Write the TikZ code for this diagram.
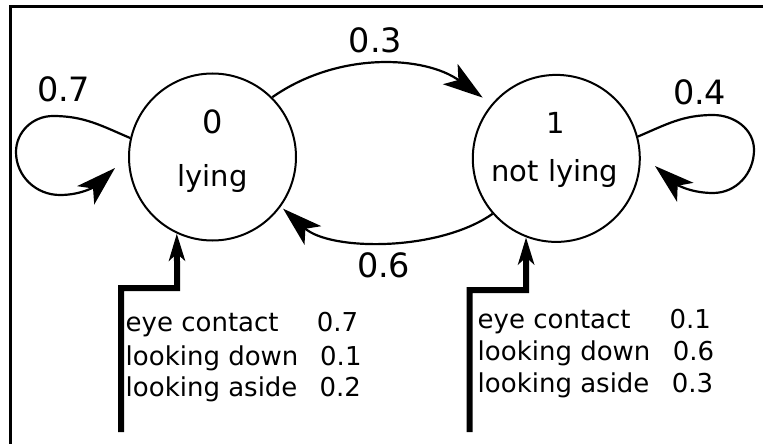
\documentclass[tikz,border=0pt]{standalone}
\usepackage{fontspec}
\setmainfont{DejaVu Sans}
\usetikzlibrary{arrows.meta}
\begin{document}
\begin{tikzpicture}[x=1pt,y=1pt,
  statenode/.style={draw, circle, line width=2pt, minimum size=167pt, inner sep=0pt},
  stxt/.style={inner sep=0pt, anchor=base, font=\fontsize{29}{34}\selectfont},
  prob/.style={inner sep=0pt, anchor=base west, font=\fontsize{33.5}{40}\selectfont},
  tab/.style={inner sep=0pt, anchor=base west, font=\fontsize{26}{31}\selectfont},
  edge/.style={line width=2.2pt, -{Stealth[length=40pt,width=25pt,inset=10pt]}},
  feed/.style={line width=6pt, line join=miter, -{Stealth[length=27pt,width=16pt,inset=7pt]}}
]
\fill[white] (0,0) rectangle (763,-444);
\useasboundingbox (0,0) rectangle (763,-444);
% frame (clipped at right and bottom)
\draw[line width=3pt] (10,-444) -- (10,-6.5) -- (763,-6.5);

% states
\node[statenode] (s0) at (212.5,-157) {};
\node[statenode] (s1) at (556.3,-158.4) {};
\node[stxt, font=\fontsize{32}{38}\selectfont] (t0a) at (212.3,-133.3) {0};
\node[stxt] (t0b) at (212.5,-186) {lying};
\node[stxt] (t1a) at (556,-133.3) {1};
\node[stxt] (t1b) at (554.7,-181.7) {not lying};

% transitions between states
\draw[edge, shorten >=11pt] (s0.45) to[out=35,in=144,looseness=0.95] (s1.140);
\draw[edge, shorten >=3pt] (s1.221) to[out=-145,in=-42,looseness=0.8] (s0.-36);

% self loop on state 0
\coordinate (a0) at (53,-116);
\coordinate (b0) at (16,-152);
\coordinate (c0) at (60,-195);
\coordinate (e0) at (115,-168);
\draw[edge] (s0.167) to[out=157,in=0] (a0) to[out=180,in=90] (b0)
  to[out=-90,in=180] (c0) to[out=0,in=223] (e0);

% self loop on state 1
\coordinate (a1) at (713,-115);
\coordinate (b1) at (754,-150);
\coordinate (c1) at (713,-193);
\coordinate (e1) at (655,-166);
\draw[edge] (s1.15) to[out=23,in=180] (a1) to[out=0,in=90] (b1)
  to[out=-90,in=0] (c1) to[out=180,in=-41] (e1);

% transition probability labels
\node[prob] (p00) at (36.8,-102) {0.7};
\node[prob] (p01) at (348.5,-52.7) {0.3};
\node[prob] (p11) at (672.8,-104) {0.4};
\node[prob] (p10) at (356.8,-277.3) {0.6};

% emission inputs
\coordinate (i0) at (121.2,-432);
\coordinate (k0) at (177.2,-288);
\draw[feed] (i0) |- (k0) -- (s0.-115);
\coordinate (i1) at (469.5,-432);
\coordinate (k1) at (526.2,-290);
\draw[feed] (i1) |- (k1) -- (s1.-111);

% emission tables
\node[tab] (l0r1) at (125.5,-331.7) {eye contact};
\node[tab] (l0r2) at (125.5,-365) {looking down};
\node[tab] (l0r3) at (125.5,-396) {looking aside};
\node[tab] (l0v1) at (316.6,-331.7) {0.7};
\node[tab] (l0v2) at (320,-365) {0.1};
\node[tab] (l0v3) at (319.3,-396) {0.2};

\node[tab] (l1r1) at (477.5,-328.3) {eye contact};
\node[tab] (l1r2) at (477.5,-360) {looking down};
\node[tab] (l1r3) at (477.5,-392.3) {looking aside};
\node[tab] (l1v1) at (669.3,-328.3) {0.1};
\node[tab] (l1v2) at (672.6,-360) {0.6};
\node[tab] (l1v3) at (671.6,-392.3) {0.3};
\end{tikzpicture}
\end{document}
